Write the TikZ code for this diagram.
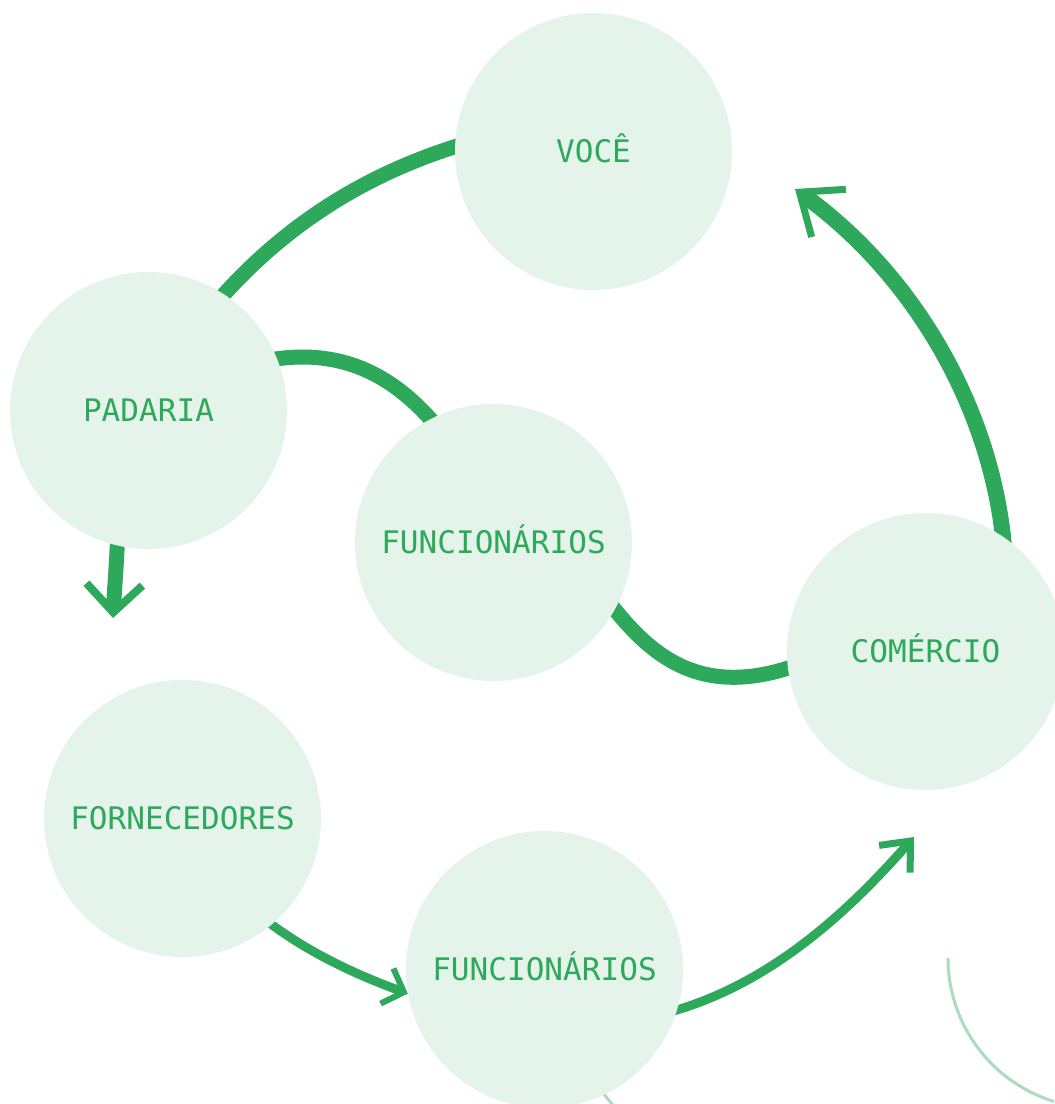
\documentclass[tikz,border=0pt]{standalone}
\usepackage{fontspec}
\setmonofont{DejaVu Sans Mono}
\usetikzlibrary{arrows.meta}
\definecolor{gr}{HTML}{2EA85A}
\definecolor{cfill}{HTML}{E4F4EA}
\definecolor{faint}{HTML}{A8DDBD}
\pgfdeclarelayer{bg}
\pgfsetlayers{bg,main}
\begin{document}
\begin{tikzpicture}[x=0.75pt,y=-0.75pt,
  circ/.style={circle, fill=cfill, minimum size=207.75pt, inner sep=0pt, text=gr,
    text height=17pt, text depth=0pt,
    font=\ttfamily\fontsize{23.3}{28}\selectfont},
  conn/.style={draw=gr, line width=11.25pt},
  connthin/.style={draw=gr, line width=6.75pt},
  faintline/.style={draw=faint, line width=2.25pt},
]
\useasboundingbox (0,0) rectangle (1054,1104);
\node[circ] (voce) at (593.5,151.5) {VOCÊ};
\node[circ] (padaria) at (148.5,410.5) {PADARIA};
\node[circ] (funcmid) at (493.5,542.5) {FUNCIONÁRIOS};
\node[circ] (comercio) at (925.5,651.5) {COMÉRCIO};
\node[circ] (fornecedores) at (182.5,818.5) {FORNECEDORES};
\node[circ] (funcbot) at (544.5,969.5) {FUNCIONÁRIOS};
\coordinate (tipA) at (795,189);
\coordinate (tipB) at (113,618);
\coordinate (tipC) at (914,837);
\coordinate (faintA) at (948,958);
\coordinate (faintB) at (595,1083);
\coordinate (faintC) at (616,1109);
\begin{pgfonlayer}{bg}
\begin{scope}
\clip (0,0) rectangle (1054,1104);
\draw[faintline] (faintA) arc[start angle=180, end angle=100, radius=150];
\draw[faintline] (faintB) -- (faintC);
\end{scope}
\draw[conn, shorten <=-8pt, shorten >=-8pt] (voce.178) .. controls (360,175) and (280,230) .. (padaria.57);
\draw[conn, shorten <=-8pt, shorten >=-8pt] (padaria.22) .. controls (340,347) and (393,374) .. (funcmid.117);
\draw[conn, shorten <=-8pt, shorten >=-8pt] (funcmid.-29) .. controls (650,655) and (700,700) .. (comercio.187);
\draw[conn, line width=12pt, shorten <=-8pt, -{Straight Barb[length=27pt, width=44pt, line width'=5.25pt]}]
  (comercio.56) .. controls (992,410) and (915,275) .. (tipA);
\draw[conn, shorten <=-8pt, -{Straight Barb[length=21pt, width=42pt, line width'=6pt]}]
  (padaria.257) .. controls (116,575) and (114,595) .. (tipB);
\draw[connthin, shorten <=-8pt, -{Straight Barb[length=13.5pt, width=28pt, line width'=4.5pt]}]
  (fornecedores.-50) .. controls (310,955) and (365,978) .. (funcbot.190);
\draw[connthin, shorten <=-8pt, -{Straight Barb[length=18pt, width=31pt, line width'=5.25pt]}]
  (funcbot.-17) .. controls (770,985) and (848,912) .. (tipC);
\end{pgfonlayer}
\end{tikzpicture}
\end{document}
